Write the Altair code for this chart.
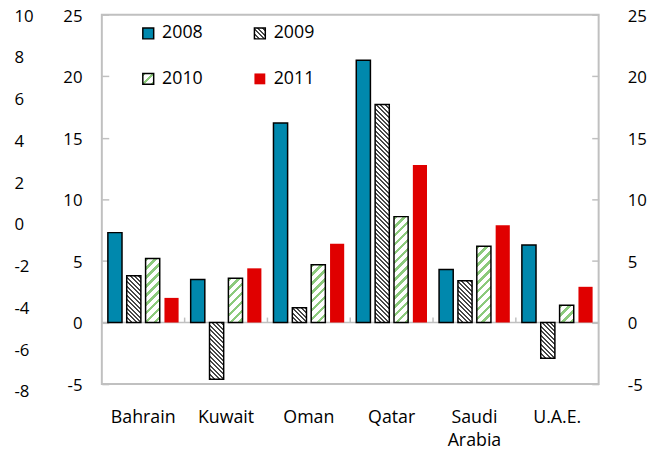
import json
import altair as alt
import pandas as pd

countries = ["Bahrain", "Kuwait", "Oman", "Qatar", "Saudi Arabia", "U.A.E."]
years = ["2008", "2009", "2010", "2011"]
v2008 = [7.3, 3.5, 16.2, 21.3, 4.3, 6.3]
v2009 = [3.8, -4.6, 1.2, 17.7, 3.4, -2.9]
v2010 = [5.2, 3.6, 4.7, 8.6, 6.2, 1.4]
v2011 = [2.0, 4.4, 6.4, 12.8, 7.9, 2.9]
main_ticks = [-5, 0, 5, 10, 15, 20, 25]
outer_ticks = [-8, -6, -4, -2, 0, 2, 4, 6, 8, 10]

W, H = 503, 374
YMIN, YMAX = -5, 25
PAD_IN, PAD_OUT = 0.25, 0.32
band = W / len(countries)
step = band / (len(years) - PAD_IN + 2 * PAD_OUT)
bar_w = step * (1 - PAD_IN)
px_per_unit = H / (YMAX - YMIN)

TEAL = "#0088ad"
RED = "#e00000"
HATCH = "#474747"
GREEN = "#8cca7c"
GRAY = "#c0c0c0"
FONT = "Open Sans"
PLAIN_NUM = "'' + datum.value"

rows = []
for yr, vals in zip(years, [v2008, v2009, v2010, v2011]):
    for c, v in zip(countries, vals):
        rows.append({"country": c, "year": yr, "value": v})
df = pd.DataFrame(rows)


def stripe_stops(color, bg, period, frac, length):
    stops = []
    i = 0
    while i * period < length:
        a = i * period / length
        b = min((i * period + frac * period) / length, 1)
        c = min((i + 1) * period / length, 1)
        stops += [
            {"offset": round(a, 4), "color": color},
            {"offset": round(b, 4), "color": color},
            {"offset": round(b, 4), "color": bg},
            {"offset": round(c, 4), "color": bg},
        ]
        i += 1
    return stops


def hatch(w, h, direction, color, period, frac):
    r = h / w
    k = (1 + r) / (1 + r * r)
    if direction == "up":
        g = {"gradient": "linear", "x1": 0, "y1": 0, "x2": round(k, 5), "y2": round(k * r, 5)}
    else:
        g = {"gradient": "linear", "x1": 0, "y1": 1, "x2": round(k, 5), "y2": round(1 - k * r, 5)}
    g["stops"] = stripe_stops(color, "#ffffff", period, frac, w + h)
    return g


styles = {
    "2009": ("down", HATCH, 4.5, 0.45),
    "2010": ("up", GREEN, 9.0, 0.4),
}
vals_by_year = {"2009": v2009, "2010": v2010}

conds = []
for yr, (direction, col, period, frac) in styles.items():
    for c, v in zip(countries, vals_by_year[yr]):
        h = max(abs(v) * px_per_unit, 1)
        conds.append({
            "test": f"datum.country === '{c}' && datum.year === '{yr}'",
            "value": hatch(bar_w, h, direction, col, period, frac),
        })

leg_size = 11
fill_range = [
    TEAL,
    {"expr": json.dumps(hatch(leg_size, leg_size, "down", HATCH, 4.5, 0.45))},
    {"expr": json.dumps(hatch(leg_size, leg_size, "up", GREEN, 9.0, 0.4))},
    RED,
]
stroke_range = ["black", "black", "black", "transparent"]

legend = alt.Legend(
    title=None, orient="none", legendX=38, legendY=10, columns=2,
    direction="horizontal",
    symbolType="square", symbolSize=121, symbolStrokeWidth=1.5,
    labelFontSize=18, labelFont=FONT, labelColor="black", labelOffset=5,
    columnPadding=48, rowPadding=28, padding=0,
)

x_axis = alt.Axis(
    title=None, domain=False, ticks=False, grid=False, labelAngle=0,
    labelFontSize=18, labelFont=FONT, labelColor="black", labelPadding=25,
    labelLineHeight=23,
    labelExpr="datum.value == 'Saudi Arabia' ? ['Saudi', 'Arabia'] : datum.label",
)

bars = alt.Chart(df).mark_bar(strokeWidth=1.5).encode(
    x=alt.X("country:N", sort=countries,
            scale=alt.Scale(paddingInner=0, paddingOuter=0), axis=x_axis),
    xOffset=alt.XOffset("year:N", sort=years,
                        scale=alt.Scale(paddingInner=PAD_IN, paddingOuter=PAD_OUT)),
    y=alt.Y(
        "value:Q",
        scale=alt.Scale(domain=[YMIN, YMAX], nice=False, zero=False),
        axis=alt.Axis(
            title=None, orient="left", values=main_ticks, offset=-7, tickSize=7,
            tickColor=GRAY, tickWidth=1.5, domain=False, grid=False,
            labelPadding=20, labelFontSize=17, labelFont=FONT, labelColor="black",
            labelOverlap=False, labelOffset=1.5, labelExpr=PLAIN_NUM,
        ),
    ),
    fill=alt.Fill("year:N", sort=years,
                  scale=alt.Scale(domain=years, range=fill_range),
                  legend=legend, condition=conds),
    stroke=alt.Stroke("year:N", sort=years,
                      scale=alt.Scale(domain=years, range=stroke_range),
                      legend=legend),
)

zero_df = pd.DataFrame({"z": [0]})

zero_line = alt.Chart(zero_df).mark_rule(color=GRAY, strokeWidth=1.5).encode(
    y=alt.Y(
        "z:Q",
        scale=alt.Scale(domain=[YMIN, YMAX], nice=False, zero=False),
        axis=alt.Axis(
            title=None, orient="right", values=main_ticks, offset=-7, tickSize=7,
            tickColor=GRAY, tickWidth=1.5, domain=False, grid=False,
            labelPadding=29, labelFontSize=17, labelFont=FONT, labelColor="black",
            labelOverlap=False, labelOffset=1.5, labelExpr=PLAIN_NUM,
        ),
    ),
)

stray = alt.Chart(zero_df).mark_rule(opacity=0).encode(
    y=alt.Y(
        "z:Q",
        scale=alt.Scale(domain=[-8, 10], range=[382, 1.5], nice=False, zero=False),
        axis=alt.Axis(
            title=None, orient="left", values=outer_ticks, ticks=False, tickSize=0,
            domain=False, grid=False, labelAlign="left", labelPadding=89,
            labelFontSize=17, labelFont=FONT, labelColor="black", labelOverlap=False,
            labelExpr=PLAIN_NUM,
        ),
    ),
)

cat_df = pd.DataFrame({"country": countries})
cat_ticks = alt.Chart(cat_df).mark_rule(color=GRAY, strokeWidth=1.5).encode(
    x=alt.X("country:N", sort=countries, bandPosition=0,
            scale=alt.Scale(paddingInner=0, paddingOuter=0), axis=x_axis),
    y=alt.Y(datum=0, scale=alt.Scale(domain=[YMIN, YMAX], nice=False, zero=False), axis=None),
    y2=alt.Y2(datum=0.4),
)

chart = alt.layer(cat_ticks, zero_line, bars, stray).resolve_scale(
    y="independent"
).properties(
    width=W, height=H,
    autosize=alt.AutoSizeParams(type="none"),
    padding={"left": 95, "top": 4, "right": 52, "bottom": 66},
).configure_view(stroke=GRAY, strokeWidth=2)

chart.save("out.html", embed_options={"renderer": "svg", "actions": False})
